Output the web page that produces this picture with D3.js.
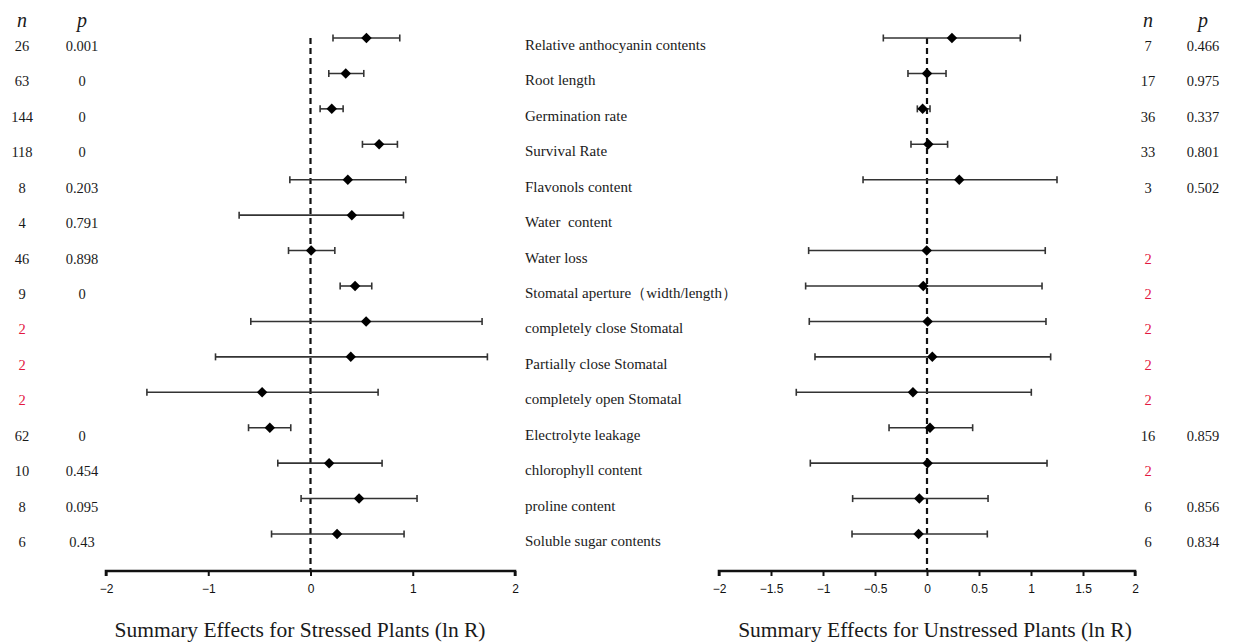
<!DOCTYPE html>
<html>
<head>
<meta charset="utf-8">
<script src="https://cdn.jsdelivr.net/npm/d3@7/dist/d3.min.js"></script>
<style>
  html, body { margin: 0; padding: 0; background: #fff; }
  svg { display: block; }
  text { white-space: pre; }
</style>
</head>
<body>
<svg id="chart" width="1254" height="643"></svg>
<script>
// Response variables (rows, top to bottom)
const categories = [
  "Relative anthocyanin contents", "Root length", "Germination rate", "Survival Rate",
  "Flavonols content", "Water  content", "Water loss", "Stomatal aperture\uFF08width/length\uFF09",
  "completely close Stomatal", "Partially close Stomatal", "completely open Stomatal",
  "Electrolyte leakage", "chlorophyll content", "proline content", "Soluble sugar contents"
];

// Stressed plants: mean ln R with 95% CI
const stressedMean = [0.547, 0.345, 0.208, 0.671, 0.365, 0.404, 0.006, 0.436, 0.544, 0.394, -0.473, -0.398, 0.182, 0.475, 0.26];
const stressedLow  = [0.22, 0.179, 0.094, 0.508, -0.202, -0.698, -0.215, 0.29, -0.584, -0.929, -1.6, -0.606, -0.32, -0.092, -0.381];
const stressedHigh = [0.873, 0.521, 0.319, 0.85, 0.932, 0.909, 0.238, 0.599, 1.678, 1.73, 0.661, -0.193, 0.7, 1.042, 0.915];
const stressedN = ["26", "63", "144", "118", "8", "4", "46", "9", "2", "2", "2", "62", "10", "8", "6"];
const stressedP = ["0.001", "0", "0", "0", "0.203", "0.791", "0.898", "0", "", "", "", "0", "0.454", "0.095", "0.43"];

// Unstressed plants: mean ln R with 95% CI (null = not measured)
const unstressedMean = [0.24, 0.0, -0.042, 0.013, 0.31, null, -0.003, -0.036, 0.006, 0.051, -0.135, 0.029, 0.006, -0.074, -0.081];
const unstressedLow  = [-0.42, -0.183, -0.093, -0.154, -0.615, null, -1.138, -1.167, -1.132, -1.077, -1.257, -0.365, -1.122, -0.715, -0.721];
const unstressedHigh = [0.897, 0.183, 0.029, 0.198, 1.25, null, 1.137, 1.106, 1.144, 1.189, 1.003, 0.439, 1.154, 0.587, 0.58];
const unstressedN = ["7", "17", "36", "33", "3", "", "2", "2", "2", "2", "2", "16", "2", "6", "6"];
const unstressedP = ["0.466", "0.975", "0.337", "0.801", "0.502", "", "", "", "", "", "", "0.859", "", "0.856", "0.834"];

const stressedTicks = [-2, -1, 0, 1, 2];
const unstressedTicks = [-2, -1.5, -1, -0.5, 0, 0.5, 1, 1.5, 2];

const serif = "'Liberation Serif', 'Times New Roman', serif";
const sans = "'Liberation Sans', 'DejaVu Sans', Arial, sans-serif";
const textColor = "#1a1a1a";
const red = "#e3173f";

const svg = d3.select("#chart");

const y = d3.scalePoint()
  .domain(d3.range(categories.length))
  .range([38, 534]);

const axisY = 571;

function drawPanel(opts) {
  const x = d3.scaleLinear().domain([-2, 2]).range(opts.range);
  const g = svg.append("g");

  // reference line at ln R = 0
  g.append("line")
    .attr("x1", x(0)).attr("x2", x(0))
    .attr("y1", 38).attr("y2", axisY)
    .attr("stroke", "#111").attr("stroke-width", 2.2)
    .attr("stroke-dasharray", "6,4");

  // horizontal axis
  const axis = d3.axisBottom(x)
    .tickValues(opts.ticks)
    .tickSize(5)
    .tickSizeOuter(5)
    .tickFormat(d => d3.format("")(d).replace("-", "\u2212"));
  const ax = g.append("g").attr("transform", `translate(0,${axisY})`).call(axis);
  ax.select(".domain").attr("stroke", "#111").attr("stroke-width", 2.6)
    .attr("d", `M${x(-2)},5V0H${x(2)}V5`).attr("fill", "none");
  ax.selectAll(".tick line").attr("stroke", "#111").attr("stroke-width", 2);
  ax.selectAll(".tick text")
    .attr("y", 13)
    .attr("font-family", sans).attr("font-size", 12).attr("fill", "#111");

  // axis title
  g.append("text")
    .attr("x", opts.titleX).attr("y", 637)
    .attr("text-anchor", "middle")
    .attr("font-family", serif).attr("font-size", 21.5).attr("fill", textColor)
    .text(opts.title);

  const rows = d3.range(categories.length).filter(i => opts.mean[i] != null);

  // confidence intervals
  const ci = g.selectAll(".ci").data(rows).join("g").attr("class", "ci");
  ci.append("line")
    .attr("x1", i => x(opts.low[i])).attr("x2", i => x(opts.high[i]))
    .attr("y1", i => y(i)).attr("y2", i => y(i))
    .attr("stroke", "#333").attr("stroke-width", 1.6);
  ci.append("line")
    .attr("x1", i => x(opts.low[i])).attr("x2", i => x(opts.low[i]))
    .attr("y1", i => y(i) - 3.5).attr("y2", i => y(i) + 3.5)
    .attr("stroke", "#333").attr("stroke-width", 1.6);
  ci.append("line")
    .attr("x1", i => x(opts.high[i])).attr("x2", i => x(opts.high[i]))
    .attr("y1", i => y(i) - 3.5).attr("y2", i => y(i) + 3.5)
    .attr("stroke", "#333").attr("stroke-width", 1.6);

  // mean effect markers
  g.selectAll(".mean").data(rows).join("path")
    .attr("class", "mean")
    .attr("d", d3.symbol(d3.symbolDiamond2, 70))
    .attr("transform", i => `translate(${x(opts.mean[i])},${y(i)})`)
    .attr("fill", "#000");

  // n and p columns
  const header = [["n", opts.nX], ["p", opts.pX]];
  g.selectAll(".hdr").data(header).join("text")
    .attr("x", d => d[1]).attr("y", 27)
    .attr("text-anchor", "middle")
    .attr("font-family", serif).attr("font-style", "italic").attr("font-size", 20)
    .attr("fill", textColor)
    .text(d => d[0]);

  const idx = d3.range(categories.length);
  g.selectAll(".n").data(idx.filter(i => opts.n[i] !== "")).join("text")
    .attr("x", opts.nX).attr("y", i => y(i) + 13)
    .attr("text-anchor", "middle")
    .attr("font-family", serif).attr("font-size", 14.5)
    .attr("fill", i => opts.n[i] === "2" && opts.p[i] === "" ? red : textColor)
    .text(i => opts.n[i]);
  g.selectAll(".p").data(idx.filter(i => opts.p[i] !== "")).join("text")
    .attr("x", opts.pX).attr("y", i => y(i) + 13)
    .attr("text-anchor", "middle")
    .attr("font-family", serif).attr("font-size", 14.5)
    .attr("fill", textColor)
    .text(i => opts.p[i]);
}

drawPanel({
  range: [106, 515], ticks: stressedTicks,
  mean: stressedMean, low: stressedLow, high: stressedHigh,
  n: stressedN, p: stressedP, nX: 22, pX: 82,
  title: "Summary Effects for Stressed Plants (ln R)", titleX: 300
});

drawPanel({
  range: [719, 1135], ticks: unstressedTicks,
  mean: unstressedMean, low: unstressedLow, high: unstressedHigh,
  n: unstressedN, p: unstressedP, nX: 1148, pX: 1203,
  title: "Summary Effects for Unstressed Plants (ln R)", titleX: 935
});

// category labels between the panels
svg.append("g").selectAll("text").data(categories).join("text")
  .attr("x", 525).attr("y", (d, i) => y(i) + 12)
  .attr("font-family", serif).attr("font-size", 15).attr("fill", textColor)
  .text(d => d);
</script>
</body>
</html>
